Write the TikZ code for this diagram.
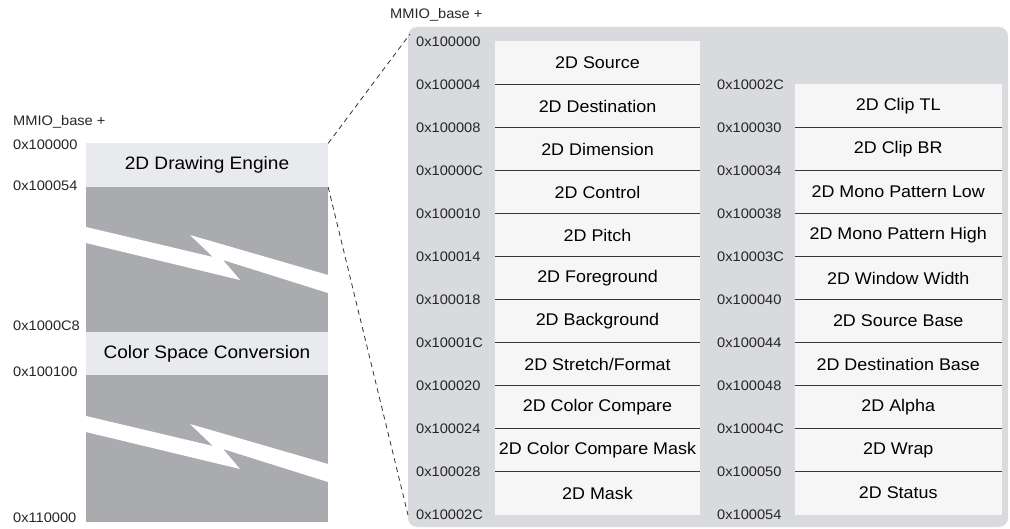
\documentclass[tikz,border=0pt]{standalone}
\usepackage{fontspec}
\setmainfont{Liberation Sans}[FakeStretch=1.06]
\usepackage{tikz}
\usepackage{xcolor}

\definecolor{blockgray}{RGB}{170,171,175}
\definecolor{bandgray}{RGB}{233,234,238}
\definecolor{panelgray}{RGB}{216,218,221}
\definecolor{regwhite}{RGB}{246,246,246}
\definecolor{rulegray}{RGB}{55,55,55}

\begin{document}
\begin{tikzpicture}[x=1pt,y=-1pt,
    addr/.style={anchor=west,inner sep=0pt,text=black!85,font=\fontsize{13.8}{14}\selectfont},
    band/.style={fill=bandgray,inner sep=0pt,minimum width=242pt,minimum height=43.5pt,font=\fontsize{18}{19}\selectfont},
    reg/.style={fill=regwhite,inner sep=0pt,minimum height=43pt,font=\fontsize{16.9}{17}\selectfont},
    sep/.style={rulegray,line width=1.1pt}]
  \useasboundingbox (0,0) rectangle (1010,529);

  % Left memory map
  \fill[blockgray] (86,143) rectangle (328,522);
  \foreach \dy in {0,189} {
    \fill[white,shift={(0,\dy)}] (86,227) -- (213,257) -- (190,235) -- (328,275)
      -- (328,293) -- (223,260) -- (240,280) -- (86,243) -- cycle;
  }
  \node[band] (dre) at (207,165.25) {2D Drawing Engine};
  \node[band] (csc) at (207,353.5) {Color Space Conversion};

  \node[addr] (lbase) at (13,122) {MMIO\_base +};
  \node[addr] (l0) at (13,145) {0x100000};
  \node[addr] (l1) at (13,186) {0x100054};
  \node[addr] (l2) at (13,326) {0x1000C8};
  \node[addr] (l3) at (13,372) {0x100100};
  \node[addr] (l4) at (13,518) {0x110000};

  % Register panel
  \fill[panelgray,rounded corners=9pt] (408,27) rectangle (1008,527);
  \node[addr] (rbase) at (390,15) {MMIO\_base +};

  \foreach \name [count=\i from 0] in {2D Source,2D Destination,2D Dimension,2D Control,2D Pitch,
      2D Foreground,2D Background,2D Stretch/Format,2D Color Compare,2D Color Compare Mask,2D Mask} {
    \node[reg,minimum width=205pt] (ra\i) at (597.5,63+43*\i) {\name};
  }
  \foreach \name [count=\i from 1] in {2D Clip TL,2D Clip BR,2D Mono Pattern Low,2D Mono Pattern High,
      2D Window Width,2D Source Base,2D Destination Base,2D Alpha,2D Wrap,2D Status} {
    \node[reg,minimum width=206.5pt] (rb\i) at (898.25,63+43*\i) {\name};
  }
  \foreach \i in {0,...,9} \draw[sep] (ra\i.south west) -- (ra\i.south east);
  \foreach \i in {1,...,9} \draw[sep] (rb\i.south west) -- (rb\i.south east);

  \foreach \a [count=\i from 0] in {100000,100004,100008,10000C,100010,100014,
      100018,10001C,100020,100024,100028,10002C} {
    \node[addr] (aa\i) at (416,41.5+43*\i) {0x\a};
  }
  \foreach \a [count=\i from 1] in {10002C,100030,100034,100038,10003C,
      100040,100044,100048,10004C,100050,100054} {
    \node[addr] (ab\i) at (717,41.5+43*\i) {0x\a};
  }

  % Zoom lines
  \coordinate (ztop) at (410,34);
  \coordinate (zbot) at (408,515);
  \draw[black!80,line width=0.8pt,dash pattern=on 5pt off 4pt] (dre.north east) -- (ztop);
  \draw[black!80,line width=0.8pt,dash pattern=on 5pt off 4pt] (dre.south east) -- (zbot);
\end{tikzpicture}
\end{document}
